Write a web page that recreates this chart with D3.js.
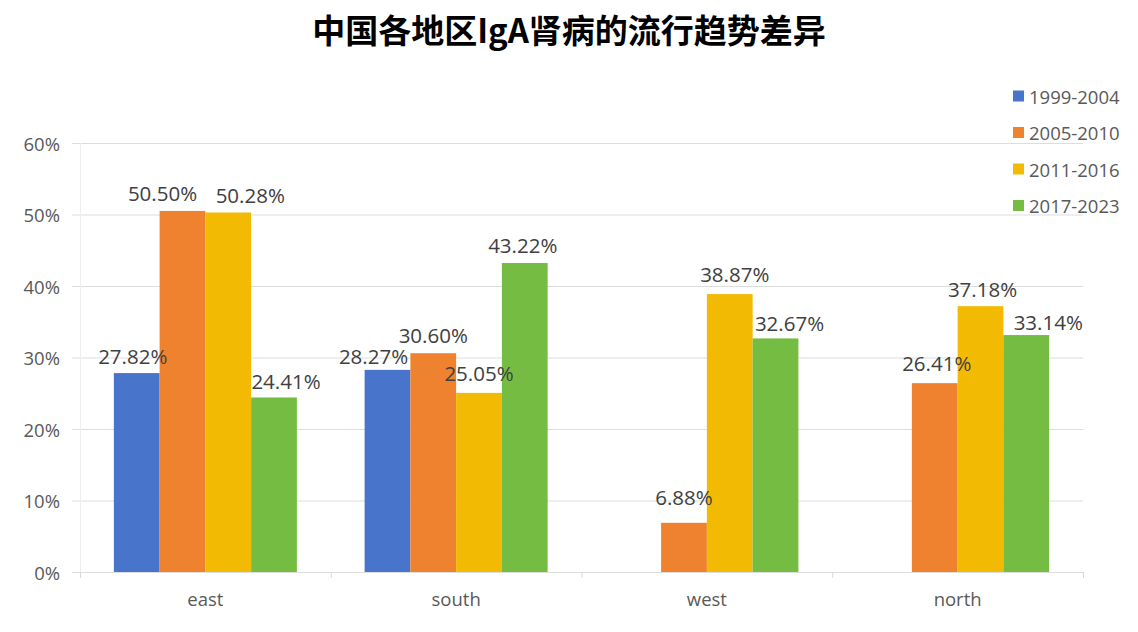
<!DOCTYPE html>
<html>
<head>
<meta charset="utf-8">
<script src="https://cdn.jsdelivr.net/npm/d3@7/dist/d3.min.js"></script>
<style>
  html, body { margin: 0; padding: 0; background: #fff; }
  svg { display: block; }
</style>
</head>
<body>
<svg id="chart" width="1138" height="632"></svg>
<script>
// ---- data ----
const title = "中国各地区IgA肾病的流行趋势差异";
const categories = ["east", "south", "west", "north"];
const seriesNames = ["1999-2004", "2005-2010", "2011-2016", "2017-2023"];
const s1999_2004 = [27.82, 28.27, null, null];
const s2005_2010 = [50.50, 30.60, 6.88, 26.41];
const s2011_2016 = [50.28, 25.05, 38.87, 37.18];
const s2017_2023 = [24.41, 43.22, 32.67, 33.14];
const yTicks = [0, 10, 20, 30, 40, 50, 60];

// ---- style / layout ----
const colors = ["#4874CB", "#EE822F", "#F2BA02", "#75BD42"];
// hand-placed label nudges (dx, dy) per series x category, as in the original
const labelDx = [[-4, -14, 0, 0], [-20, 0, 0, 2], [22, 0, 5, 2], [12, -2, 14, 22]];
const labelDy = [[0, 3, 0, 0], [-1, -1, -9, -3], [0, -3, -3, 0], [1, -1, 2, 4]];

const seriesValues = [s1999_2004, s2005_2010, s2011_2016, s2017_2023];
const svg = d3.select("#chart");
const plotLeft = 80, plotRight = 1083, plotTop = 143, plotBottom = 572;

const x = d3.scaleBand().domain(categories).range([plotLeft, plotRight]).padding(0);
const xs = d3.scaleBand().domain(seriesNames).range([0, x.bandwidth()])
  .paddingInner(0).paddingOuter(0.74);
const y = d3.scaleLinear().domain([0, 60]).range([plotBottom, plotTop]);

const font = "'Open Sans', 'Noto Sans', sans-serif";

// title
svg.append("text")
  .attr("x", 569).attr("y", 29)
  .attr("text-anchor", "middle").attr("dominant-baseline", "central")
  .style("font-family", "'Noto Sans CJK SC', sans-serif")
  .style("font-weight", 700).style("font-size", "33px").attr("fill", "#000")
  .text(title);

// gridlines
svg.append("g").selectAll("line").data(yTicks).join("line")
  .attr("x1", plotLeft - 8).attr("x2", plotRight)
  .attr("y1", d => y(d) + 0.5).attr("y2", d => y(d) + 0.5)
  .attr("stroke", "#DDDDDD").attr("stroke-width", 1);

// faint vertical axis line
svg.append("line")
  .attr("x1", plotLeft + 0.5).attr("x2", plotLeft + 0.5)
  .attr("y1", plotTop).attr("y2", plotBottom)
  .attr("stroke", "#EEEEEE");

// category boundary ticks
const bounds = categories.map(c => x(c)).concat([plotRight]);
svg.append("g").selectAll("line").data(bounds).join("line")
  .attr("x1", d => d + 0.5).attr("x2", d => d + 0.5)
  .attr("y1", plotBottom).attr("y2", plotBottom + 6)
  .attr("stroke", "#D9D9D9");

// y tick labels
svg.append("g").selectAll("text").data(yTicks).join("text")
  .attr("x", 60).attr("y", d => y(d))
  .attr("text-anchor", "end").attr("dominant-baseline", "central")
  .style("font-family", font).style("font-size", "18.5px").attr("fill", "#595959")
  .text(d => d + "%");

// category labels
svg.append("g").selectAll("text").data(categories).join("text")
  .attr("x", d => x(d) + x.bandwidth() / 2).attr("y", 606)
  .attr("text-anchor", "middle")
  .style("font-family", font).style("font-size", "18.5px").attr("fill", "#595959")
  .text(d => d);

// bars
const barData = [];
seriesValues.forEach((vals, si) => {
  vals.forEach((v, ci) => {
    if (v !== null) barData.push({ si, ci, v });
  });
});
svg.append("g").selectAll("rect").data(barData).join("rect")
  .attr("x", d => x(categories[d.ci]) + xs(seriesNames[d.si]))
  .attr("width", xs.bandwidth())
  .attr("y", d => y(d.v))
  .attr("height", d => plotBottom - y(d.v))
  .attr("fill", d => colors[d.si]);

// value labels
svg.append("g").selectAll("text").data(barData).join("text")
  .attr("x", d => x(categories[d.ci]) + xs(seriesNames[d.si]) + xs.bandwidth() / 2 + labelDx[d.si][d.ci])
  .attr("y", d => y(d.v) - 9 + labelDy[d.si][d.ci])
  .attr("text-anchor", "middle")
  .style("font-family", font).style("font-size", "20.5px").attr("fill", "#404040")
  .text(d => d.v.toFixed(2) + "%");

// legend
const lg = svg.append("g").selectAll("g").data(seriesNames).join("g")
  .attr("transform", (d, i) => `translate(1013, ${96 + i * 36.5})`);
lg.append("rect").attr("x", 0).attr("y", -5.5).attr("width", 11).attr("height", 11)
  .attr("fill", (d, i) => colors[i]);
lg.append("text").attr("x", 16).attr("y", 0).attr("dominant-baseline", "central")
  .style("font-family", font).style("font-size", "18.5px").attr("fill", "#595959")
  .text(d => d);
</script>
</body>
</html>
